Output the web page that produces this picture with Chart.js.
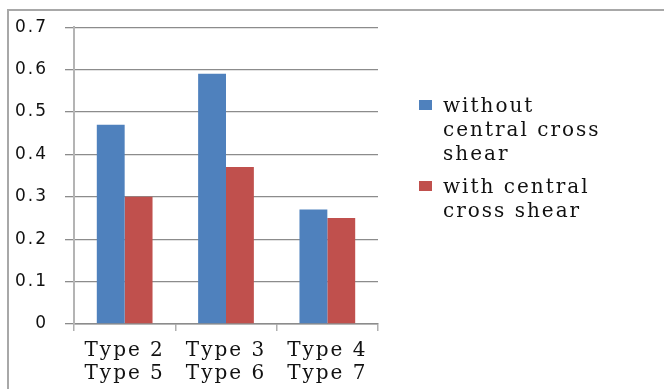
<!DOCTYPE html>
<html>
<head>
<meta charset="utf-8">
<script src="https://cdn.jsdelivr.net/npm/chart.js@4/dist/chart.umd.min.js"></script>
<style>
  html, body { margin: 0; padding: 0; background: #fff; }
  #wrap { position: relative; width: 664px; height: 389px; overflow: hidden; }
  #frame { position: absolute; left: 7px; top: 9px; width: 700px; height: 400px;
           border-top: 2px solid #a8a8a8; border-left: 2px solid #a8a8a8; box-sizing: border-box; }
  canvas { position: absolute; left: 0; top: 0; }
  #legend { position: absolute; left: 419px; top: 93px; width: 200px;
            font-family: "DejaVu Serif", serif; font-size: 20px; letter-spacing: 2px;
            line-height: 24px; color: #111; }
  .item { position: relative; padding-left: 24px; width: 170px; margin-bottom: 9px; }
  .swatch { position: absolute; left: 0; top: 7px; width: 13px; height: 10px; }
</style>
</head>
<body>
<div id="wrap">
  <div id="frame"></div>
  <canvas id="chart" width="664" height="389"></canvas>
  <div id="legend"></div>
</div>
<script>
// Categories (two-line tick labels) and the two series
const categories = [["Type 2", "Type 5"], ["Type 3", "Type 6"], ["Type 4", "Type 7"]];
const seriesNames = ["without central cross shear", "with central cross shear"];
const withoutShear = [0.47, 0.59, 0.27];
const withShear = [0.30, 0.37, 0.25];
const yTicks = [0, 0.1, 0.2, 0.3, 0.4, 0.5, 0.6, 0.7];
const seriesColors = ["#4f81bd", "#c0504d"];

// Wider glyph spacing for all canvas text
const spacing = {
  id: "spacing",
  beforeDraw(chart) { chart.ctx.letterSpacing = "2px"; },
  afterDraw(chart) { chart.ctx.letterSpacing = "0px"; }
};

const chart = new Chart(document.getElementById("chart"), {
  type: "bar",
  data: {
    labels: categories,
    datasets: [
      { label: seriesNames[0], data: withoutShear, backgroundColor: seriesColors[0] },
      { label: seriesNames[1], data: withShear, backgroundColor: seriesColors[1] }
    ]
  },
  options: {
    responsive: false,
    animation: false,
    events: [],
    layout: { padding: { top: 27, right: 286, left: 0, bottom: 0 } },
    datasets: { bar: { categoryPercentage: 0.55, barPercentage: 1.0 } },
    plugins: { legend: { display: false }, tooltip: { enabled: false } },
    scales: {
      x: {
        grid: { drawOnChartArea: false, offset: true, tickLength: 7, color: "#b0b0b0", lineWidth: 1.5 },
        border: { color: "#8c8c8c", width: 1.5 },
        ticks: {
          color: "#111",
          padding: 8,
          maxRotation: 0,
          font: { family: "'DejaVu Serif', serif", size: 20, lineHeight: 1.15 }
        },
        afterFit(scale) { scale.height = 65; }
      },
      y: {
        min: 0,
        max: 0.7,
        afterBuildTicks(scale) { scale.ticks = yTicks.map(v => ({ value: v })); },
        grid: { color: "#8c8c8c", lineWidth: 1.3, tickLength: 9 },
        border: { color: "#b4b4b4", width: 2 },
        ticks: {
          color: "#111",
          padding: 17,
          font: { family: "'DejaVu Sans', sans-serif", size: 17 }
        },
        afterFit(scale) { scale.width = 74; }
      }
    }
  },
  plugins: [spacing]
});

// Legend built from the datasets
const legend = document.getElementById("legend");
chart.data.datasets.forEach(ds => {
  const item = document.createElement("div");
  item.className = "item";
  const sw = document.createElement("span");
  sw.className = "swatch";
  sw.style.background = ds.backgroundColor;
  item.appendChild(sw);
  item.appendChild(document.createTextNode(ds.label));
  legend.appendChild(item);
});
</script>
</body>
</html>
